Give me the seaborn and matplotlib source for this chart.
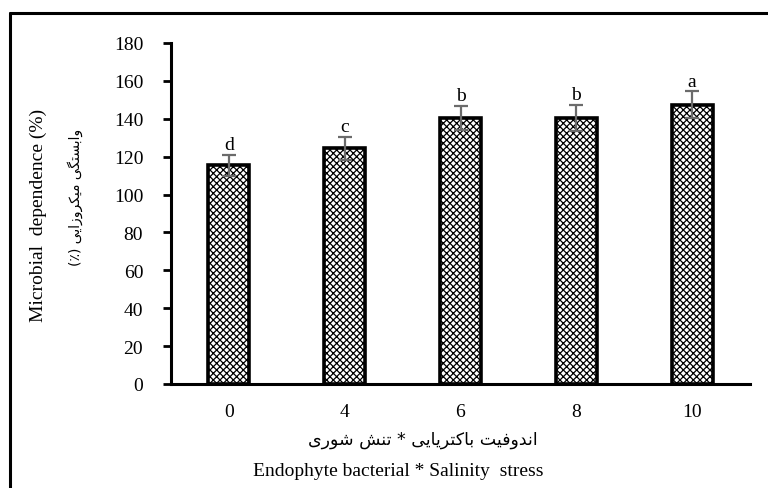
import matplotlib
matplotlib.use("Agg")
import matplotlib.pyplot as plt
import seaborn as sns
import pandas as pd
from matplotlib.lines import Line2D

categories = ["0", "4", "6", "8", "10"]
values = [115.5, 124.5, 140.5, 140.5, 147.5]
errors = [5.5, 6.0, 6.5, 7.0, 7.0]
letters = ["d", "c", "b", "b", "a"]
yticks = [0, 20, 40, 60, 80, 100, 120, 140, 160, 180]

ylabel_en = "Microbial  dependence (%)"
ylabel_fa = "وابستگی میکروزایی (٪)"
xlabel_fa = "اندوفیت باکتریایی * تنش شوری"
xlabel_en = "Endophyte bacterial * Salinity  stress"

# Minimal Arabic/Persian shaping (matplotlib has no complex text layout)
FORMS = {
    "ا": ("\uFE8D", "\uFE8E", None, None),
    "ب": ("\uFE8F", "\uFE90", "\uFE91", "\uFE92"),
    "ت": ("\uFE95", "\uFE96", "\uFE97", "\uFE98"),
    "د": ("\uFEA9", "\uFEAA", None, None),
    "ر": ("\uFEAD", "\uFEAE", None, None),
    "ز": ("\uFEAF", "\uFEB0", None, None),
    "س": ("\uFEB1", "\uFEB2", "\uFEB3", "\uFEB4"),
    "ش": ("\uFEB5", "\uFEB6", "\uFEB7", "\uFEB8"),
    "ف": ("\uFED1", "\uFED2", "\uFED3", "\uFED4"),
    "ک": ("\uFB8E", "\uFB8F", "\uFB90", "\uFB91"),
    "گ": ("\uFB92", "\uFB93", "\uFB94", "\uFB95"),
    "م": ("\uFEE1", "\uFEE2", "\uFEE3", "\uFEE4"),
    "ن": ("\uFEE5", "\uFEE6", "\uFEE7", "\uFEE8"),
    "و": ("\uFEED", "\uFEEE", None, None),
    "ی": ("\uFBFC", "\uFBFD", "\uFBFE", "\uFBFF"),
}
MIRROR = {"(": ")", ")": "("}


def shape(s):
    out = []
    n = len(s)
    for i, ch in enumerate(s):
        if ch not in FORMS:
            out.append(ch)
            continue
        f = FORMS[ch]
        prev_j = i > 0 and s[i - 1] in FORMS and FORMS[s[i - 1]][2] is not None
        next_j = i < n - 1 and s[i + 1] in FORMS and f[2] is not None
        if prev_j and next_j:
            out.append(f[3])
        elif prev_j:
            out.append(f[1])
        elif next_j:
            out.append(f[2])
        else:
            out.append(f[0])
    return "".join(MIRROR.get(c, c) for c in reversed(out))


df = pd.DataFrame({"cat": categories, "val": values})

sns.set_theme(style="white")
plt.rcParams["font.family"] = ["Liberation Serif", "DejaVu Sans"]
plt.rcParams["hatch.linewidth"] = 0.9
plt.rcParams["hatch.color"] = "black"
plt.rcParams["text.color"] = "black"
plt.rcParams["xtick.color"] = "black"
plt.rcParams["ytick.color"] = "black"
plt.rcParams["xtick.labelcolor"] = "black"
plt.rcParams["ytick.labelcolor"] = "black"

fig = plt.figure(figsize=(7.68, 4.89), dpi=100)
ax = fig.add_axes([171 / 768, 1 - 385 / 489, (750 - 171) / 768, (385 - 44) / 489])

sns.barplot(data=df, x="cat", y="val", order=categories, color="white",
            width=0.355, edgecolor="black", linewidth=2.6, ax=ax,
            errorbar=None, zorder=2)
for p in ax.patches:
    p.set_hatch("xxxxx")

xs = list(range(len(categories)))
ax.errorbar(xs, values, yerr=errors, fmt="none", ecolor="#6b6b6b",
            elinewidth=1.6, capsize=5, capthick=1.6, zorder=3)
for x, v, e, l in zip(xs, values, errors, letters):
    ax.text(x, v + e + 0.8, l, ha="center", va="bottom", fontsize=14,
            fontfamily="Liberation Serif", color="black")

ax.set_ylim(0, 180)
ax.set_xlim(-0.5, len(categories) - 0.5)
ax.set_yticks(yticks)
ax.set_yticklabels([str(t) for t in yticks])
ax.set_xlabel("")
ax.set_ylabel("")
for s in ["top", "right"]:
    ax.spines[s].set_visible(False)
for s in ["left", "bottom"]:
    ax.spines[s].set_color("black")
    ax.spines[s].set_linewidth(2.2)
ax.tick_params(axis="y", length=6, width=2, color="black", pad=14,
               labelsize=14, direction="out", left=True, labelcolor="black")
ax.tick_params(axis="x", length=0, pad=14, labelsize=14, labelcolor="black")

fig.text(38 / 768, 1 - 215 / 489, ylabel_en, rotation=90, ha="center",
         va="center", fontsize=14, fontfamily="Liberation Serif", color="black")
fig.text(75 / 768, 1 - 197 / 489, shape(ylabel_fa), rotation=90, ha="center",
         va="center", fontsize=10, fontfamily="DejaVu Sans", color="black")
fig.text(423 / 768, 1 - 440 / 489, shape(xlabel_fa), ha="center",
         va="center", fontsize=12.5, fontfamily="DejaVu Sans", color="black")
fig.text(398 / 768, 1 - 472 / 489, xlabel_en, ha="center", va="center",
         fontsize=14, fontfamily="Liberation Serif", color="black")

# outer frame (left and top)
fig.add_artist(Line2D([10 / 768, 10 / 768], [0, 1 - 14 / 489],
                      transform=fig.transFigure, color="black", linewidth=2.2))
fig.add_artist(Line2D([10 / 768, 1], [1 - 14 / 489, 1 - 14 / 489],
                      transform=fig.transFigure, color="black", linewidth=2.2))

fig.savefig("out.png", dpi=100, facecolor="white")
